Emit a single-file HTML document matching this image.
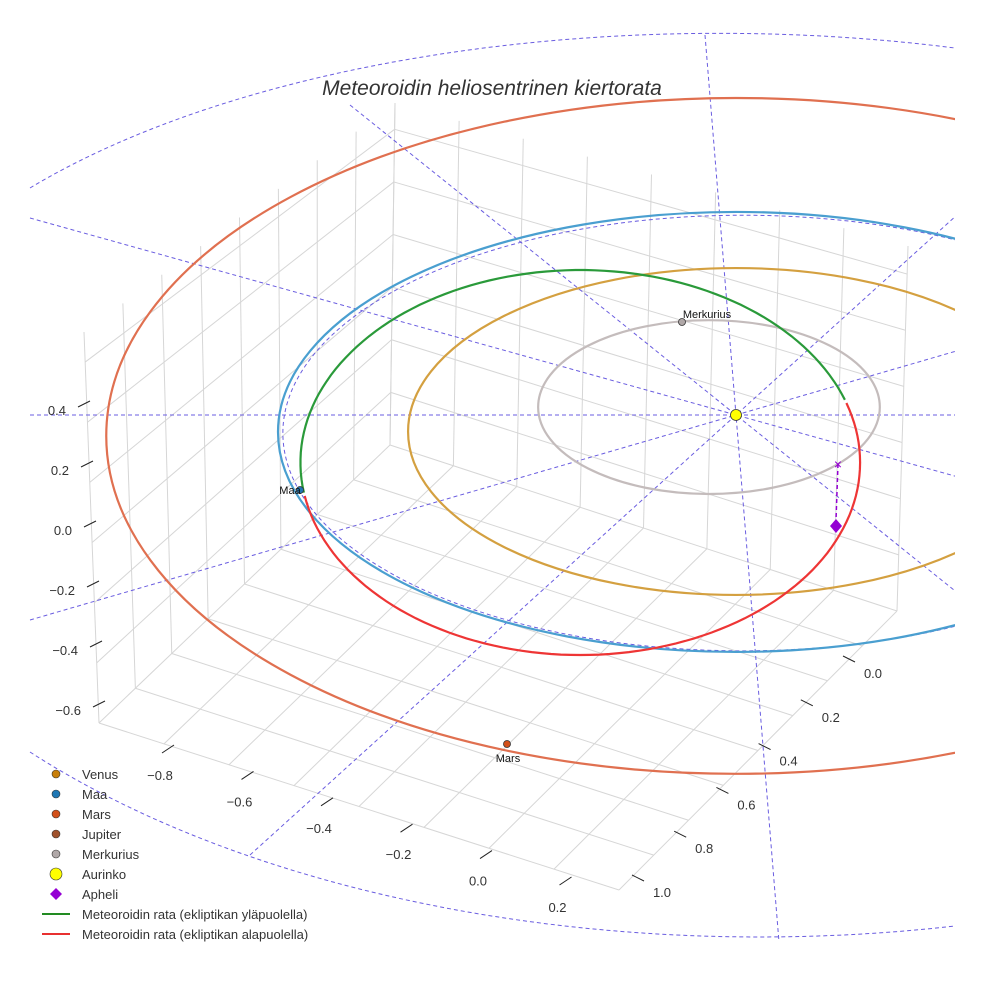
<!DOCTYPE html>
<html><head><meta charset="utf-8">
<style>
html,body{margin:0;padding:0;background:#fff;overflow:hidden;width:984px;height:984px;}
svg{display:block;font-family:"Liberation Sans",sans-serif;}
</style></head>
<body>
<svg id="chart" width="984" height="984" viewBox="0 0 984 984" xmlns="http://www.w3.org/2000/svg">
<defs><clipPath id="clip"><rect x="0" y="0" width="955" height="940"/></clipPath></defs>
<g id="grid" stroke="#d6d6d6" stroke-width="1" fill="none"></g>
<g id="guides" clip-path="url(#clip)" stroke="#6a5de0" stroke-width="1" stroke-dasharray="4,3" fill="none"></g>
<g id="orbits" clip-path="url(#clip)" fill="none" stroke-width="2.2"></g>
<g id="marks"></g>
<g id="axes" font-size="13" fill="#333"></g>
<text x="492" y="95" text-anchor="middle" font-size="21" font-style="italic" fill="#333">Meteoroidin heliosentrinen kiertorata</text>
<g id="legend" font-size="13" fill="#333"></g>
</svg>
<script>
// ---- data ----
const orbitNames = ["Merkurius","Venus","Maa","Mars"];
const orbitRadiiX = [0.373,0.716,1.0,1.375];
const orbitRadiiY = [0.395,0.743,1.0,1.536];
const orbitCenterX = [-0.059,0.0,0.0,0.0];
const orbitCenterY = [-0.036,0.075,0.077,0.095];
const orbitColors = ["#c4bcbc","#d4a040","#4a9fd0","#e07050"];
const meteorA = 0.611, meteorB = 0.875, meteorCx = -0.34, meteorCy = 0.216;
const greenStartDeg = 19, greenEndDeg = 190; // angle range above ecliptic
const zTicks = [0.4,0.2,0.0,-0.2,-0.4,-0.6];
const xTicks = [-0.8,-0.6,-0.4,-0.2,0.0,0.2];
const yTicks = [0.0,0.2,0.4,0.6,0.8,1.0];
const legendNames = ["Venus","Maa","Mars","Jupiter","Merkurius","Aurinko","Apheli","Meteoroidin rata (ekliptikan yläpuolella)","Meteoroidin rata (ekliptikan alapuolella)"];
const legendColors = ["#c87f0a","#1f77b4","#d2501a","#a0522d","#b0a8a8","#ffff00","#9400d3","#228b22","#e83030"];

// ---- projection ----
const SUN = [736,415], SX = 458, SY = 220;
function px(u){return SUN[0]+u*SX;}
function py(v){return SUN[1]+v*SY;}
const NS="http://www.w3.org/2000/svg";
function mk(tag,attrs,parent){const e=document.createElementNS(NS,tag);for(const k in attrs)e.setAttribute(k,attrs[k]);parent.appendChild(e);return e;}
function lerp(a,b,t){return [a[0]+(b[0]-a[0])*t,a[1]+(b[1]-a[1])*t];}

// grid box
const grid=document.getElementById('grid');
const FL=[99,723],FR=[619,890],BR=[897,611],BL=[390,445];
const FLt=[84,332],BLt=[395,103],BRt=[908,246];
function gl(a,b,name){const l=mk('line',{x1:a[0],y1:a[1],x2:b[0],y2:b[1]},grid);}
for(let i=0;i<=8;i++){const t=i/8;
 gl(lerp(FL,FR,t),lerp(BL,BR,t),'floor-grid-line');
 gl(lerp(FL,BL,t),lerp(FR,BR,t),'floor-grid-line');
 gl(lerp(BL,BR,t),lerp(BLt,BRt,t),'back-wall-grid-line');
 gl(lerp(FL,BL,t),lerp(FLt,BLt,t),'side-wall-grid-line');
}
for(let i=1;i<=6;i++){const s=i/6.5;
 const a=lerp(FL,FLt,s),b=lerp(BL,BLt,s),c=lerp(BR,BRt,s);
 gl(a,b,'side-wall-grid-line');gl(b,c,'back-wall-grid-line');
}

// guides
const guides=document.getElementById('guides');
const guideEnds=[[705,35],[350,105],[30,218],[30,620],[250,855],[30,415]];
guideEnds.forEach(p=>{const dx=SUN[0]-p[0],dy=SUN[1]-p[1];const t=(955-p[0])/dx;const k=Math.max(t,1.3);
 const l=mk('line',{x1:p[0],y1:p[1],x2:p[0]+dx*k,y2:p[1]+dy*k},guides);
 });
let g1=mk('path',{d:'M30,188 A858 382 0 0 1 955,48'},guides);
let g2=mk('path',{d:'M30,752 A956 522 0 0 0 955,926'},guides);
let g3=mk('ellipse',{cx:px(0.015),cy:py(0.082),rx:460,ry:SY*0.99},guides);

// orbits
const orbits=document.getElementById('orbits');
orbitNames.forEach((n,i)=>{const e=mk('ellipse',{cx:px(orbitCenterX[i]),cy:py(orbitCenterY[i]),rx:SX*orbitRadiiX[i],ry:SY*orbitRadiiY[i],stroke:orbitColors[i]},orbits);
 });
function arc(a0,a1){let d='';for(let a=a0;a<=a1+0.01;a+=2){const r=a*Math.PI/180;
 const x=px(meteorCx+meteorA*Math.cos(r)),y=py(meteorCy-meteorB*Math.sin(r));d+=(d?'L':'M')+x.toFixed(1)+','+y.toFixed(1);}return d;}
let mg=mk('path',{d:arc(greenStartDeg,greenEndDeg),stroke:'#2a9a3a'},orbits);

let mr=mk('path',{d:arc(greenEndDeg,greenStartDeg+360),stroke:'#ee3535'},orbits);


// markers
const marks=document.getElementById('marks');
function dot(x,y,r,fill,name,label,lx,ly){const c=mk('circle',{cx:x,cy:y,r:r,fill:fill,stroke:'#333','stroke-width':0.8},marks);
 
 if(label){const t=mk('text',{x:lx,y:ly,'font-size':11,'text-anchor':'middle',fill:'#111'},marks);t.textContent=label;}}
dot(682,322,3.5,'#b0a8a8','merkurius-marker','Merkurius',707,318);
dot(300,490,3.5,'#1f77b4','maa-marker','Maa',290,494);
dot(507,744,3.5,'#d2501a','mars-marker','Mars',508,762);
dot(736,415,5.5,'#ffff00','sun-marker');
let ap=mk('path',{d:'M836,519 L842,526 L836,533 L830,526Z',fill:'#9400d3'},marks);
let apl=mk('line',{x1:838,y1:464,x2:836,y2:520,stroke:'#9400d3','stroke-dasharray':'4,3','stroke-width':1.5},marks);
let ax=mk('text',{x:838,y:469,'font-size':14,'text-anchor':'middle',fill:'#9400d3'},marks);ax.textContent='×';

// axes
const axes=document.getElementById('axes');
zTicks.forEach((v,i)=>{const y=410+(0.4-v)*300;const x0=78+i*3;
 let l=mk('line',{x1:x0,y1:y-3,x2:x0+12,y2:y-9,stroke:'#222'},axes);
 const t=mk('text',{x:x0-12,y:y+5,'text-anchor':'end'},axes);t.textContent=v.toFixed(1).replace('-','−');});
xTicks.forEach((v,i)=>{const x=160+i*79.5,y=775+i*26.4;
 let l=mk('line',{x1:x+2,y1:y-22,x2:x+14,y2:y-30,stroke:'#222'},axes);
 const t=mk('text',{x:x,y:y+5,'text-anchor':'middle'},axes);t.textContent=v.toFixed(1).replace('-','−');});
yTicks.forEach((v,i)=>{const x=873-i*42.2,y=678+i*43.8;
 let l=mk('line',{x1:x-30,y1:y-22,x2:x-18,y2:y-16,stroke:'#222'},axes);
 const t=mk('text',{x:x,y:y,'text-anchor':'middle'},axes);t.textContent=v.toFixed(1);});

// legend
const legend=document.getElementById('legend');
legendNames.forEach((n,i)=>{const y=774+i*20;let m;
 if(i<5)m=mk('circle',{cx:56,cy:y,r:4,fill:legendColors[i],stroke:'#333','stroke-width':0.6},legend);
 else if(i==5)m=mk('circle',{cx:56,cy:y,r:6,fill:legendColors[i],stroke:'#333','stroke-width':0.6},legend);
 else if(i==6)m=mk('path',{d:`M56,${y-6}L62,${y}L56,${y+6}L50,${y}Z`,fill:legendColors[i]},legend);
 else m=mk('line',{x1:42,y1:y,x2:70,y2:y,stroke:legendColors[i],'stroke-width':2},legend);
 
 const t=mk('text',{x:82,y:y+5},legend);t.textContent=n;});
</script>
</body></html>
